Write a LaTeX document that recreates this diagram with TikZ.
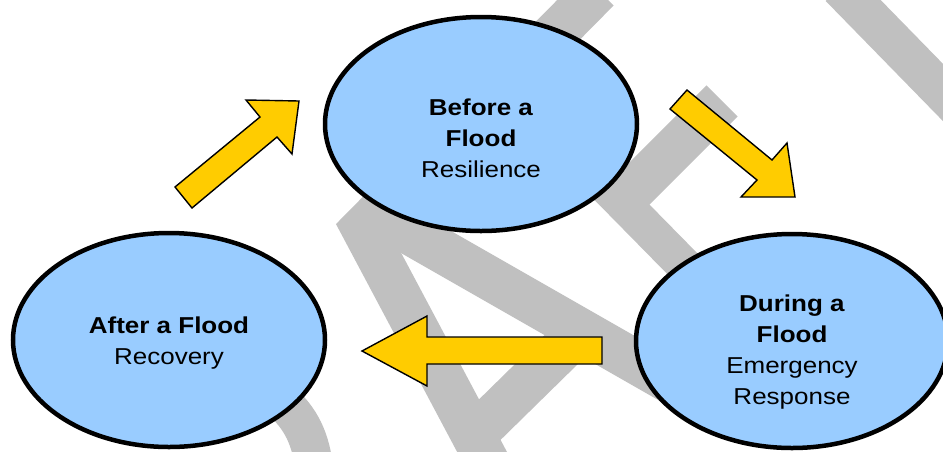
\documentclass[tikz,border=0pt]{standalone}
\usepackage{fontspec}
\setmainfont{Liberation Sans}[FakeStretch=1.13]
\usetikzlibrary{shapes.geometric}
\definecolor{floodblue}{HTML}{99CCFF}
\definecolor{arrowyellow}{HTML}{FFCC00}
\definecolor{draftgrey}{HTML}{C0C0C0}
\tikzset{
	stage/.style={ellipse, draw=black, line width=4.5pt, fill=floodblue, minimum width=312pt, minimum height=214pt, inner sep=0pt},
	stagetext/.style={align=center, font=\fontsize{23}{31}\selectfont},
	blockarrow/.style={draw=black, line width=1.4pt, fill=arrowyellow, line join=miter},
	draftband/.style={draftgrey, line width=44pt, line join=miter}
}

\begin{document}
\begin{tikzpicture}[x=1pt, y=-1pt]
	\useasboundingbox (0,0) rectangle (943,451);
	\clip (0,0) rectangle (943,451);
	% Watermark bands:
	\draw[draftband] (598,-10) -- (363,228) -- (489,465);
	\draw[draftband] (370,210) -- (720,410);
	\draw[draftband] (468,441) -- (572,339);
	\draw[draftband] (722,101) -- (620,203);
	\draw[draftband, line width=36pt] (605,185) -- (720,302);
	\draw[draftband, line width=40pt] (840,-13) -- (965,115);
	\draw[draftband, line width=38pt] (270,392) .. controls (295,410) and (308,430) .. (313,460);
	% Stages:
	\node[stage] (before) at (481,124){};
	\node[stage] (after) at (169,340){};
	\node[stage] (during) at (792,341){};
	\node[stagetext] (beforetext) at (before.center) [yshift=-14pt]{\textbf{Before a}\\\textbf{Flood}\\Resilience};
	\node[stagetext] (aftertext) at (after.center) [yshift=-3pt]{\textbf{After a Flood}\\Recovery};
	\node[stagetext] (duringtext) at (during.center) [yshift=-11pt]{\textbf{During a}\\\textbf{Flood}\\Emergency\\Response};
	% Block arrows:
	\draw[blockarrow] (175,187) -- (260,117) -- (246,100) -- (299,101) -- (292,154) -- (277,137) -- (192,208) -- cycle;
	\draw[blockarrow] (670,109) -- (687,90) -- (772,160) -- (787,143) -- (795,197) -- (741,197) -- (757,180) -- cycle;
	\draw[blockarrow] (602,337) -- (427,337) -- (427,316) -- (362,351) -- (427,386) -- (427,364) -- (602,364) -- cycle;
\end{tikzpicture}
\end{document}
